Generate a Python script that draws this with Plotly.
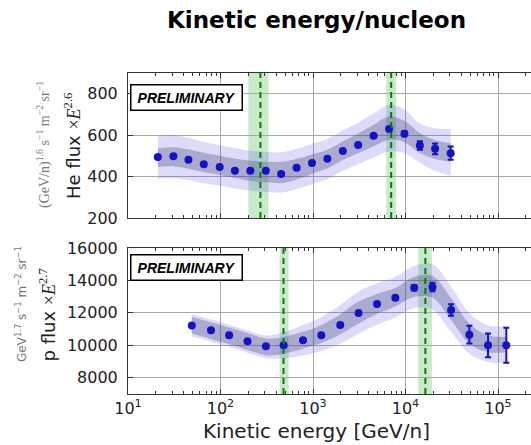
import plotly.graph_objects as go

# Helium: kinetic energy per nucleon [GeV/n] and flux x E^2.6
he_energy = [21, 31, 45, 66, 98, 143, 210, 309, 453, 665, 975, 1430, 2100,
             3080, 4520, 6640, 9730, 14300, 20900, 30800]
he_flux = [494, 498, 481, 460, 446, 428, 428, 428, 413, 443, 466, 486, 524,
           552, 597, 630, 607, 550, 534, 513]
he_err = [4, 4, 4, 4, 4, 4, 4, 4, 4, 5, 5, 6, 6, 7, 8, 9, 12, 20, 26, 32]
he_band_mid = [492, 496, 485, 468, 454, 440, 428, 422, 420, 436, 460, 484, 525,
               560, 598, 634, 618, 562, 530, 517]
he_sys_half = [45, 46, 47, 47, 46, 47, 48, 50, 52, 50, 47, 45, 45, 48, 52, 56,
               52, 48, 45, 44]
he_tot_half = [104, 104, 102, 100, 97, 97, 97, 97, 97, 97, 97, 97, 97, 100,
               106, 113, 105, 95, 103, 113]
he_break = [270, 7000]
he_break_lo = [200, 6200]
he_break_hi = [330, 7900]

# Protons: kinetic energy [GeV] and flux x E^2.7
p_energy = [49, 79, 124, 196, 310, 481, 780, 1230, 1970, 3110, 4920, 7760,
            12400, 19600, 31100, 49000, 78000, 123000]
p_flux = [11230, 10935, 10620, 10250, 9940, 10000, 10310, 10620, 11250, 12000,
          12555, 12930, 13550, 13600, 12180, 10660, 10000, 10000]
p_err = [60, 60, 60, 60, 60, 70, 70, 80, 90, 100, 110, 130, 170, 260, 350, 540,
         730, 1080]
p_band_mid = [11246, 10900, 10580, 10240, 9900, 10000, 10311, 10700, 11300,
              12020, 12550, 12960, 13600, 13600, 12230, 10725, 10100, 10050]
p_sys_half = [520, 520, 520, 520, 520, 520, 520, 560, 620, 675, 620, 570, 625,
              670, 675, 625, 520, 470]
p_tot_half = [690, 690, 690, 690, 700, 800, 935, 1050, 1180, 1300, 1280, 1250,
              1300, 1400, 1400, 1250, 1140, 1140]
p_break = [480, 16400]
p_break_lo = [436, 13700]
p_break_hi = [545, 19300]

x_tickvals = [10, 100, 1000, 10000, 100000]
x_ticktext = ["10<sup>1</sup>", "10<sup>2</sup>", "10<sup>3</sup>",
              "10<sup>4</sup>", "10<sup>5</sup>"]
he_yticks = [200, 400, 600, 800]
p_yticks = [8000, 10000, 12000, 14000, 16000]

W, H = 531, 445
L, R, T, B = 128, 0, 73, 51
PW, PH = W - L - R, H - T - B

def px(x):
    return (x - L) / PW

def py(y):
    return (H - B - y) / PH

BLUE = "#1212c8"
LIGHT = "rgba(80,80,230,0.2)"
DARK = "rgba(60,60,110,0.3)"
GREEN_FILL = "rgba(60,180,60,0.28)"
GREEN_LINE = "#0a7a0a"

fig = go.Figure()


def add_band(x, mid, half, color, xa, ya):
    lo = [m - h for m, h in zip(mid, half)]
    hi = [m + h for m, h in zip(mid, half)]
    fig.add_trace(go.Scatter(x=x, y=lo, mode="lines", line=dict(width=0, shape="spline"),
                             hoverinfo="skip", showlegend=False, xaxis=xa, yaxis=ya))
    fig.add_trace(go.Scatter(x=x, y=hi, mode="lines", line=dict(width=0, shape="spline"),
                             fill="tonexty", fillcolor=color, hoverinfo="skip",
                             showlegend=False, xaxis=xa, yaxis=ya))


def add_panel(x, flux, err, mid, sys_half, tot_half, xa, ya):
    add_band(x, mid, tot_half, LIGHT, xa, ya)
    add_band(x, mid, sys_half, DARK, xa, ya)
    fig.add_trace(go.Scatter(
        x=x, y=flux, mode="markers",
        marker=dict(color=BLUE, size=8),
        error_y=dict(type="data", array=err, color=BLUE, thickness=2, width=3),
        showlegend=False, xaxis=xa, yaxis=ya))


add_panel(he_energy, he_flux, he_err, he_band_mid, he_sys_half, he_tot_half, "x", "y")
add_panel(p_energy, p_flux, p_err, p_band_mid, p_sys_half, p_tot_half, "x2", "y2")

shapes = []
for xa, ya, brk, lo, hi in [("x", "y", he_break, he_break_lo, he_break_hi),
                            ("x2", "y2", p_break, p_break_lo, p_break_hi)]:
    for b, l, h in zip(brk, lo, hi):
        shapes.append(dict(type="rect", xref=xa, yref=ya + " domain", x0=l, x1=h,
                           y0=0, y1=1, fillcolor=GREEN_FILL, line=dict(width=0),
                           layer="below"))
        shapes.append(dict(type="line", xref=xa, yref=ya + " domain", x0=b, x1=b,
                           y0=0, y1=1, line=dict(color=GREEN_LINE, width=2, dash="6px,4px"),
                           layer="above"))

TICKFONT = dict(family="DejaVu Sans", size=16, color="#222222")
GRID = "#a8a8a8"
FRAME = "#333333"

xaxis_common = dict(
    type="log", range=[1, 1 + PW / 92.5], showgrid=True, gridcolor=GRID, gridwidth=1,
    showline=True, linecolor=FRAME, linewidth=1, mirror="allticks",
    ticks="inside", ticklen=5, tickcolor=FRAME, tickmode="array",
    tickvals=x_tickvals, ticktext=x_ticktext, zeroline=False,
    minor=dict(ticks="inside", ticklen=3, tickcolor=FRAME, showgrid=False,
               tickvals=[m * 10 ** k for k in range(1, 6) for m in range(2, 10)]),
    tickfont=TICKFONT,
)

yaxis_common = dict(
    showgrid=True, gridcolor=GRID, gridwidth=1, showline=True, linecolor=FRAME,
    linewidth=1, mirror=False, ticks="inside", ticklen=5, tickcolor=FRAME,
    tickmode="array", zeroline=False, tickfont=TICKFONT, ticklabelstandoff=6,
)

top_lo = py(218)
bot_hi = py(248)

fig.update_layout(
    width=W, height=H, margin=dict(l=L, r=R, t=T, b=B),
    paper_bgcolor="white", plot_bgcolor="white",
    xaxis=dict(xaxis_common, anchor="y", showticklabels=False),
    xaxis2=dict(xaxis_common, anchor="y2", matches="x"),
    yaxis=dict(yaxis_common, domain=[top_lo, 1], range=[200, 900], tickvals=he_yticks,
               ticktext=[str(v) for v in he_yticks], anchor="x"),
    yaxis2=dict(yaxis_common, domain=[0, bot_hi], range=[7000, 16000], tickvals=p_yticks,
                ticktext=[str(v) for v in p_yticks], anchor="x2"),
    shapes=shapes,
    showlegend=False,
)

MATH = "font-family:'Liberation Serif'"
annotations = [
    dict(text="Kinetic energy/nucleon", x=px(316), y=py(20), xref="paper",
         yref="paper", xanchor="center", yanchor="middle", showarrow=False,
         font=dict(family="DejaVu Sans", size=23, color="black", weight="bold")),
    dict(text="Kinetic energy [GeV/n]", x=px(316.5), y=py(431), xref="paper", yref="paper",
         xanchor="center", yanchor="middle", showarrow=False,
         font=dict(family="DejaVu Sans", size=20, color="#222222")),
    dict(text="He flux <span style=\"%s\">×<i>E</i><sup>2.6</sup></span>" % MATH,
         x=px(72), y=py(146), xref="paper", yref="paper", textangle=-90,
         xanchor="center", yanchor="middle", showarrow=False,
         font=dict(family="DejaVu Sans", size=18, color="#222222")),
    dict(text="(GeV/n)<sup>1.6</sup> s<sup>−1</sup> m<sup>−2</sup> sr<sup>−1</sup>",
         x=px(43), y=py(145), xref="paper", yref="paper", textangle=-90,
         xanchor="center", yanchor="middle", showarrow=False,
         font=dict(family="Liberation Serif", size=14, color="#777777")),
    dict(text="p flux <span style=\"%s\">×<i>E</i><sup>2.7</sup></span>" % MATH,
         x=px(47.5), y=py(315), xref="paper", yref="paper", textangle=-90,
         xanchor="center", yanchor="middle", showarrow=False,
         font=dict(family="DejaVu Sans", size=18, color="#222222")),
    dict(text="GeV<sup>1.7</sup> s<sup>−1</sup> m<sup>−2</sup> sr<sup>−1</sup>",
         x=px(21), y=py(304), xref="paper", yref="paper", textangle=-90,
         xanchor="center", yanchor="middle", showarrow=False,
         font=dict(family="DejaVu Sans", size=12, color="#777777")),
]
for yc in (97.5, 267):
    annotations.append(dict(
        text="<b><i>PRELIMINARY</i></b>", x=px(186.5), y=py(yc), xref="paper",
        yref="paper", xanchor="center", yanchor="middle", showarrow=False,
        width=108, height=22, borderpad=1, borderwidth=1.5, bordercolor="black",
        bgcolor="white", font=dict(family="Liberation Sans", size=14, color="black")))

fig.update_layout(annotations=annotations)

fig.write_html("out.html")
